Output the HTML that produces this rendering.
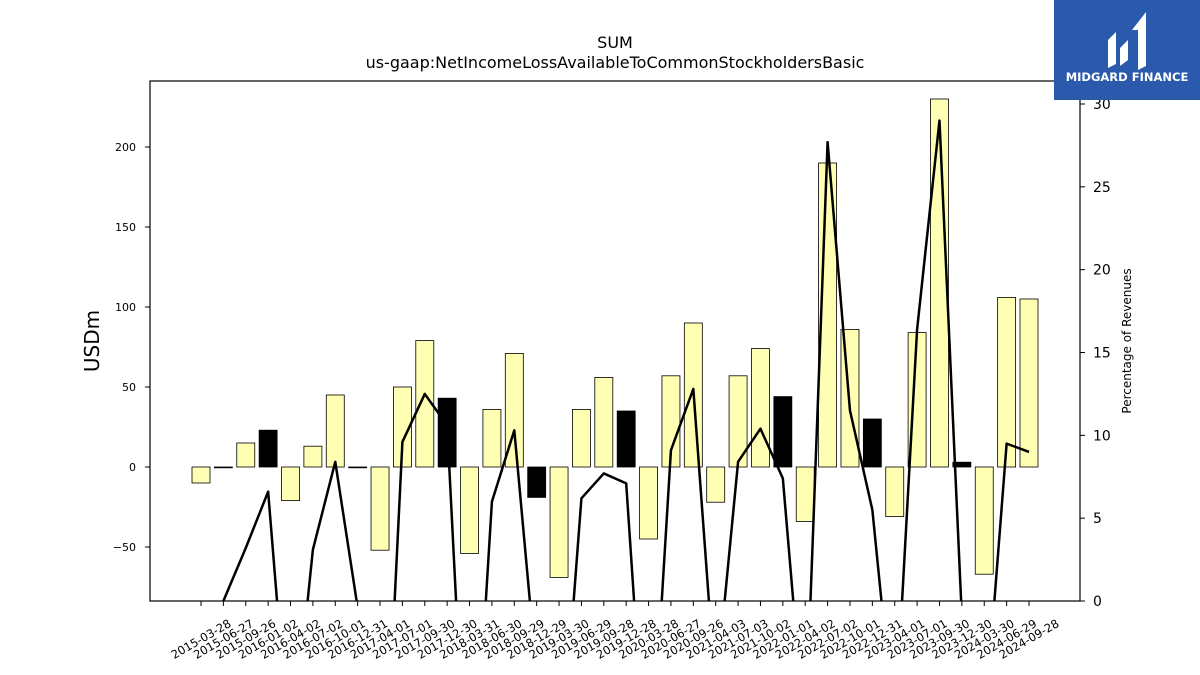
<!DOCTYPE html>
<html><head><meta charset="utf-8"><style>
html,body{margin:0;padding:0;background:#fff;overflow:hidden;width:1200px;height:675px;}
svg{display:block;}
svg text{font-family:"DejaVu Sans","Liberation Sans",sans-serif;}
</style></head><body>
<svg id="chart" width="1200" height="675" viewBox="0 0 1200 675" xmlns="http://www.w3.org/2000/svg">
<text x="615" y="48" text-anchor="middle" font-size="16">SUM</text>
<text x="615" y="68" text-anchor="middle" font-size="16">us-gaap:NetIncomeLossAvailableToCommonStockholdersBasic</text>
<defs><clipPath id="plotclip"><rect x="150" y="81" width="930" height="520"/></clipPath></defs>
<g id="bars"></g>
<g id="line" clip-path="url(#plotclip)"></g>
<rect x="150" y="81" width="930" height="520" fill="none" stroke="#000" stroke-width="1.2"/>
<g id="axes"></g>
<text transform="translate(99,341) rotate(-90)" text-anchor="middle" font-size="20">USDm</text>
<text transform="translate(1131,341) rotate(-90)" text-anchor="middle" font-size="12">Percentage of Revenues</text>
<g>
<rect x="1054" y="0" width="146" height="100" fill="#2b5aad"/>
<path d="M1108 68 V40 L1116 32 V64 Z M1120 48 L1128 40 V60 L1120 66 Z M1132 30 L1146 12 V66 L1138 70 V30 Z" fill="#fff"/>
<text x="1127" y="81" text-anchor="middle" font-size="11.5" font-weight="bold" fill="#fff">MIDGARD FINANCE</text>
</g>
</svg>
<script>
const categories=["2015-03-28","2015-06-27","2015-09-26","2016-01-02","2016-04-02","2016-07-02","2016-10-01","2016-12-31","2017-04-01","2017-07-01","2017-09-30","2017-12-30","2018-03-31","2018-06-30","2018-09-29","2018-12-29","2019-03-30","2019-06-29","2019-09-28","2019-12-28","2020-03-28","2020-06-27","2020-09-26","2021-04-03","2021-07-03","2021-10-02","2022-01-01","2022-04-02","2022-07-02","2022-10-01","2022-12-31","2023-04-01","2023-07-01","2023-09-30","2023-12-30","2024-03-30","2024-06-29","2024-09-28"];
const netIncome=[-10,0,15,23,-21,13,45,0,-52,50,79,43,-54,36,71,-19,-69,36,56,35,-45,57,90,-22,57,74,44,-34,190,86,30,-31,84,230,3,-67,106,105];
const isAnnual=[0,0,0,1,0,0,0,0,0,0,0,1,0,0,0,1,0,0,0,1,0,0,0,0,0,0,1,0,0,0,1,0,0,0,1,0,0,0];
const pctRevenue=[-5,0,3.2,6.6,-10,3.1,8.4,-0.4,-18,9.6,12.5,10.6,-16,6.0,10.3,-4.5,-11.6,6.2,7.7,7.1,-13,9.1,12.8,-5.6,8.4,10.4,7.4,-8.5,27.7,11.5,5.5,-8,16.4,29.0,-1,-7.9,9.5,9.0];
const leftTicks=[-50,0,50,100,150,200];
const rightTicks=[0,5,10,15,20,25,30];
const NS="http://www.w3.org/2000/svg";
const xPos=i=>201+i*(1029-201)/(categories.length-1);
const yL=v=>467-v*1.6;
const yR=v=>601-v*(601-104)/30;
function mk(tag,attrs,parent){const e=document.createElementNS(NS,tag);for(const k in attrs)e.setAttribute(k,attrs[k]);parent.appendChild(e);return e;}
const bars=document.getElementById('bars'),axes=document.getElementById('axes'),line=document.getElementById('line');
netIncome.forEach((v,i)=>{
  const y0=yL(0),y1=yL(v);
  const r=mk('rect',{x:xPos(i)-9,y:Math.min(y0,y1),width:18,height:Math.max(Math.abs(y1-y0),0.8),fill:isAnnual[i]?'#000':'#ffffb3',stroke:'#000','stroke-width':0.8},bars);
  
  
});
const pts=pctRevenue.map((v,i)=>xPos(i)+','+yR(v)).join(' ');
const pl=mk('polyline',{points:pts,fill:'none',stroke:'#000','stroke-width':2.5,'stroke-linejoin':'round'},line);


leftTicks.forEach(t=>{
  const y=yL(t);
  const l=mk('line',{x1:145,x2:150,y1:y,y2:y,stroke:'#000'},axes);
  
  const tx=mk('text',{x:136,y:y+4,'text-anchor':'end','font-size':11},axes);tx.textContent=t<0?'\u2212'+(-t):t;
  
});
rightTicks.forEach(t=>{
  const y=yR(t);
  const l=mk('line',{x1:1080,x2:1085,y1:y,y2:y,stroke:'#000'},axes);
  
  const tx=mk('text',{x:1093,y:y+5,'font-size':14},axes);tx.textContent=t;
  
});
categories.forEach((c,i)=>{
  const x=xPos(i);
  const l=mk('line',{x1:x,x2:x,y1:601,y2:606,stroke:'#000'},axes);
  
  const tx=mk('text',{transform:`translate(${x},${639}) rotate(-30)`,'text-anchor':'middle','dy':'0.35em','font-size':11.5},axes);tx.textContent=c;
  
});
</script>
</body></html>
